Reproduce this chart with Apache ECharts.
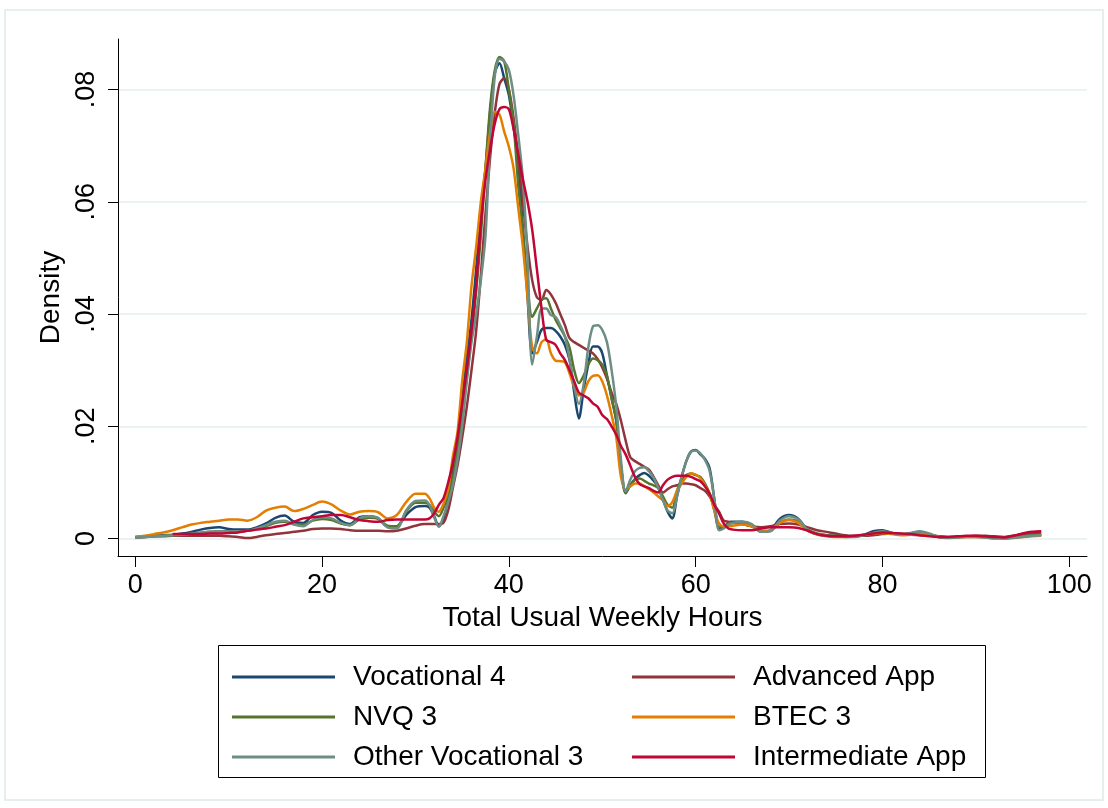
<!DOCTYPE html>
<html>
<head>
<meta charset="utf-8">
<title>Total Usual Weekly Hours – kernel densities</title>
<script src="https://cdn.jsdelivr.net/npm/echarts@6/dist/echarts.min.js"></script>
<style>
  html, body { margin: 0; padding: 0; background: #ffffff; }
  #chart { width: 1108px; height: 808px; }
</style>
</head>
<body>
<div id="chart"></div>
<script>
// Evaluation points (hours): 1-hour steps in the tails, half-hour steps around the peak
const hours = [
  0, 1, 2, 3, 4, 5, 6, 7, 8, 9,
  10, 11, 12, 13, 14, 15, 16, 17, 18, 19,
  20, 21, 22, 23, 24, 25, 26, 27, 28, 29,
  30, 31,
  31.5, 32, 32.5, 33, 33.5,
  34, 34.5, 35, 35.5, 36, 36.5, 37, 37.5, 38, 38.5,
  39, 39.5, 40, 40.5, 41, 41.5, 42, 42.5, 43, 43.5,
  44, 44.5, 45, 45.5, 46, 46.5, 47, 47.5, 48, 48.5,
  49, 49.5, 50, 50.5, 51, 51.5, 52, 52.5, 53, 53.5,
  54, 54.5, 55, 55.5, 56, 56.5, 57, 57.5, 58, 58.5,
  59, 59.5, 60, 60.5, 61, 61.5, 62, 62.5, 63, 63.5,
  64,
  65, 66, 67, 68, 69, 70, 71, 72, 73, 74,
  75, 76, 77, 78, 79, 80, 81, 82, 83, 84,
  85, 86, 87, 88, 89, 90, 91, 92, 93, 94,
  95, 96, 97
];

const vocational4 = [
  0.0003, 0.0004, 0.0005, 0.0006, 0.0007, 0.0009, 0.0012, 0.0016, 0.0019, 0.0020,
  0.0017, 0.0016, 0.0016, 0.0020, 0.0027, 0.0037, 0.0041, 0.0030, 0.0028, 0.0042,
  0.0048, 0.0046, 0.0032, 0.0026, 0.0038, 0.0040, 0.0036, 0.0022, 0.0022, 0.0042,
  0.0056, 0.0058,
  0.0055, 0.0040, 0.0022, 0.0035, 0.0070,
  0.0120, 0.0180, 0.0250, 0.0320, 0.0390, 0.0480, 0.0580, 0.0660, 0.0760, 0.0830,
  0.0847, 0.0820, 0.0790, 0.0734, 0.0670, 0.0550, 0.0430, 0.0330, 0.0350, 0.0372,
  0.0375, 0.0375, 0.0370, 0.0360, 0.0345, 0.0318, 0.0260, 0.0214, 0.0265, 0.0310,
  0.0342, 0.0342, 0.0330, 0.0290, 0.0250, 0.0210, 0.0130, 0.0081, 0.0095, 0.0106,
  0.0113, 0.0117, 0.0112, 0.0103, 0.0092, 0.0070, 0.0048, 0.0036, 0.0075, 0.0110,
  0.0138, 0.0155, 0.0158, 0.0150, 0.0142, 0.0125, 0.0070, 0.0018, 0.0020, 0.0028,
  0.0030,
  0.0030, 0.0025, 0.0012, 0.0015, 0.0035, 0.0042, 0.0035, 0.0015, 0.0008, 0.0006,
  0.0005, 0.0004, 0.0004, 0.0007, 0.0013, 0.0015, 0.0010, 0.0007, 0.0009, 0.0012,
  0.0008, 0.0003, 0.0002, 0.0003, 0.0004, 0.0004, 0.0003, 0.0001, 0.0001, 0.0002,
  0.0004, 0.0006, 0.0007
];

const advancedApp = [
  0.0002, 0.0003, 0.0004, 0.0004, 0.0005, 0.0005, 0.0005, 0.0005, 0.0005, 0.0005,
  0.0004, 0.0003, 0.0001, 0.0003, 0.0006, 0.0008, 0.0010, 0.0012, 0.0014, 0.0017,
  0.0018, 0.0018, 0.0017, 0.0015, 0.0014, 0.0014, 0.0014, 0.0013, 0.0014, 0.0018,
  0.0023, 0.0026,
  0.0026, 0.0026, 0.0026, 0.0028, 0.0050,
  0.0090, 0.0130, 0.0180, 0.0235, 0.0300, 0.0370, 0.0470, 0.0580, 0.0680, 0.0760,
  0.0810, 0.0820, 0.0800, 0.0750, 0.0680, 0.0600, 0.0520, 0.0460, 0.0430, 0.0425,
  0.0443, 0.0435, 0.0420, 0.0400, 0.0380, 0.0357, 0.0350, 0.0345, 0.0340, 0.0335,
  0.0330, 0.0320, 0.0305, 0.0285, 0.0260, 0.0240, 0.0210, 0.0175, 0.0145, 0.0138,
  0.0133, 0.0128, 0.0123, 0.0110, 0.0095, 0.0082, 0.0088, 0.0093, 0.0095, 0.0098,
  0.0098, 0.0097, 0.0095, 0.0090, 0.0085, 0.0075, 0.0060, 0.0048, 0.0032, 0.0030,
  0.0029,
  0.0026, 0.0022, 0.0020, 0.0022, 0.0026, 0.0027, 0.0025, 0.0020, 0.0015, 0.0012,
  0.0009, 0.0006, 0.0005, 0.0005, 0.0006, 0.0008, 0.0009, 0.0008, 0.0007, 0.0006,
  0.0005, 0.0004, 0.0003, 0.0003, 0.0004, 0.0005, 0.0005, 0.0004, 0.0003, 0.0005,
  0.0008, 0.0010, 0.0011
];

const nvq3 = [
  0.0002, 0.0003, 0.0004, 0.0005, 0.0006, 0.0007, 0.0008, 0.0010, 0.0012, 0.0013,
  0.0013, 0.0013, 0.0014, 0.0017, 0.0022, 0.0028, 0.0030, 0.0026, 0.0025, 0.0032,
  0.0035, 0.0033, 0.0027, 0.0024, 0.0034, 0.0037, 0.0035, 0.0023, 0.0022, 0.0048,
  0.0064, 0.0064,
  0.0060, 0.0048, 0.0040, 0.0055, 0.0080,
  0.0110, 0.0160, 0.0220, 0.0290, 0.0360, 0.0440, 0.0540, 0.0660, 0.0770, 0.0835,
  0.0858, 0.0850, 0.0800, 0.0740, 0.0630, 0.0550, 0.0450, 0.0395, 0.0410, 0.0425,
  0.0428, 0.0410, 0.0390, 0.0375, 0.0360, 0.0340, 0.0300, 0.0277, 0.0290, 0.0310,
  0.0321, 0.0318, 0.0310, 0.0290, 0.0250, 0.0210, 0.0130, 0.0082, 0.0095, 0.0105,
  0.0107, 0.0103, 0.0098, 0.0095, 0.0090, 0.0075, 0.0060, 0.0055, 0.0085, 0.0105,
  0.0113, 0.0116, 0.0113, 0.0110, 0.0098, 0.0080, 0.0050, 0.0020, 0.0022, 0.0026,
  0.0028,
  0.0026, 0.0022, 0.0013, 0.0014, 0.0028, 0.0034, 0.0030, 0.0016, 0.0009, 0.0006,
  0.0005, 0.0004, 0.0004, 0.0006, 0.0010, 0.0012, 0.0010, 0.0008, 0.0009, 0.0011,
  0.0008, 0.0004, 0.0002, 0.0003, 0.0004, 0.0004, 0.0003, 0.0002, 0.0001, 0.0002,
  0.0004, 0.0006, 0.0007
];

const btec3 = [
  0.0003, 0.0005, 0.0008, 0.0011, 0.0015, 0.0020, 0.0025, 0.0028, 0.0030, 0.0032,
  0.0034, 0.0034, 0.0032, 0.0038, 0.0050, 0.0055, 0.0057, 0.0049, 0.0053, 0.0060,
  0.0066, 0.0061, 0.0050, 0.0043, 0.0048, 0.0049, 0.0047, 0.0036, 0.0042, 0.0065,
  0.0080, 0.0080,
  0.0072, 0.0055, 0.0048, 0.0062, 0.0088,
  0.0146, 0.0190, 0.0280, 0.0350, 0.0450, 0.0520, 0.0600, 0.0660, 0.0725, 0.0760,
  0.0755, 0.0725, 0.0698, 0.0660, 0.0590, 0.0520, 0.0430, 0.0340, 0.0330, 0.0350,
  0.0355, 0.0330, 0.0317, 0.0316, 0.0314, 0.0294, 0.0270, 0.0255, 0.0260, 0.0280,
  0.0290, 0.0291, 0.0280, 0.0255, 0.0220, 0.0180, 0.0110, 0.0087, 0.0093, 0.0098,
  0.0098, 0.0093, 0.0088, 0.0082, 0.0075, 0.0068, 0.0058, 0.0065, 0.0085, 0.0098,
  0.0110, 0.0116, 0.0114, 0.0108, 0.0095, 0.0080, 0.0050, 0.0027, 0.0022, 0.0022,
  0.0023,
  0.0025, 0.0022, 0.0014, 0.0015, 0.0028, 0.0033, 0.0028, 0.0014, 0.0007, 0.0004,
  0.0003, 0.0003, 0.0004, 0.0007, 0.0009, 0.0010, 0.0008, 0.0006, 0.0007, 0.0008,
  0.0006, 0.0003, 0.0002, 0.0002, 0.0003, 0.0003, 0.0002, 0.0001, 0.0001, 0.0002,
  0.0003, 0.0004, 0.0005
];

const otherVocational3 = [
  0.0002, 0.0003, 0.0004, 0.0005, 0.0006, 0.0007, 0.0009, 0.0011, 0.0012, 0.0013,
  0.0013, 0.0013, 0.0014, 0.0018, 0.0024, 0.0030, 0.0032, 0.0025, 0.0022, 0.0033,
  0.0038, 0.0036, 0.0028, 0.0024, 0.0036, 0.0040, 0.0037, 0.0020, 0.0018, 0.0050,
  0.0067, 0.0068,
  0.0060, 0.0038, 0.0021, 0.0040, 0.0065,
  0.0095, 0.0140, 0.0200, 0.0280, 0.0350, 0.0400, 0.0460, 0.0540, 0.0710, 0.0825,
  0.0855, 0.0850, 0.0835, 0.0790, 0.0720, 0.0640, 0.0500, 0.0310, 0.0360, 0.0410,
  0.0410, 0.0398, 0.0395, 0.0380, 0.0360, 0.0320, 0.0270, 0.0240, 0.0274, 0.0340,
  0.0378, 0.0380, 0.0372, 0.0350, 0.0300, 0.0235, 0.0140, 0.0084, 0.0105, 0.0120,
  0.0126, 0.0127, 0.0120, 0.0108, 0.0090, 0.0068, 0.0050, 0.0045, 0.0075, 0.0110,
  0.0138, 0.0155, 0.0157, 0.0152, 0.0140, 0.0120, 0.0070, 0.0015, 0.0018, 0.0025,
  0.0028,
  0.0030, 0.0026, 0.0012, 0.0013, 0.0032, 0.0040, 0.0034, 0.0015, 0.0008, 0.0005,
  0.0004, 0.0003, 0.0003, 0.0006, 0.0010, 0.0013, 0.0010, 0.0008, 0.0010, 0.0013,
  0.0009, 0.0003, 0.0001, 0.0002, 0.0003, 0.0003, 0.0002, 0.0000, 0.0000, 0.0001,
  0.0003, 0.0005, 0.0006
];

// Intermediate apprenticeships: no density estimated below 4 hours
const intermediateApp = [
  null, null, null, null, 0.0008, 0.0008, 0.0008, 0.0008, 0.0009, 0.0009,
  0.0010, 0.0011, 0.0014, 0.0016, 0.0018, 0.0021, 0.0024, 0.0030, 0.0036, 0.0038,
  0.0040, 0.0042, 0.0042, 0.0038, 0.0033, 0.0031, 0.0030, 0.0033, 0.0034, 0.0034,
  0.0034, 0.0034,
  0.0036, 0.0045, 0.0060, 0.0072, 0.0100,
  0.0134, 0.0180, 0.0241, 0.0300, 0.0370, 0.0450, 0.0560, 0.0640, 0.0695, 0.0740,
  0.0765, 0.0769, 0.0765, 0.0730, 0.0685, 0.0640, 0.0600, 0.0550, 0.0480, 0.0410,
  0.0354, 0.0350, 0.0345, 0.0330, 0.0318, 0.0300, 0.0280, 0.0260, 0.0255, 0.0250,
  0.0241, 0.0235, 0.0220, 0.0213, 0.0200, 0.0185, 0.0165, 0.0150, 0.0130, 0.0110,
  0.0097, 0.0093, 0.0090, 0.0085, 0.0082, 0.0095, 0.0105, 0.0110, 0.0112, 0.0112,
  0.0112, 0.0110, 0.0106, 0.0102, 0.0093, 0.0080, 0.0060, 0.0045, 0.0027, 0.0018,
  0.0016,
  0.0015, 0.0015, 0.0018, 0.0020, 0.0020, 0.0020, 0.0019, 0.0014, 0.0008, 0.0005,
  0.0004, 0.0004, 0.0005, 0.0007, 0.0009, 0.0011, 0.0010, 0.0009, 0.0008, 0.0006,
  0.0004, 0.0003, 0.0003, 0.0004, 0.0005, 0.0005, 0.0004, 0.0003, 0.0002, 0.0005,
  0.0009, 0.0012, 0.0013
];

const seriesNames = ['Vocational 4', 'Advanced App', 'NVQ 3', 'BTEC 3', 'Other Vocational 3', 'Intermediate App'];
const seriesValues = [vocational4, advancedApp, nvq3, btec3, otherVocational3, intermediateApp];
const seriesColors = ['#1a476f', '#90353b', '#55752f', '#e37e00', '#6e8e84', '#c10534'];

const xTicks = [0, 20, 40, 60, 80, 100];
const yTicks = [0, 0.02, 0.04, 0.06, 0.08];
const yTickLabels = ['0', '.02', '.04', '.06', '.08'];

const FONT = "'Liberation Sans', Arial, Helvetica, sans-serif";

const chart = echarts.init(document.getElementById('chart'), null, { renderer: 'canvas' });

const series = seriesNames.map((name, k) => ({
  name: name,
  type: 'line',
  data: hours.map((h, i) => [h, seriesValues[k][i]]),
  showSymbol: false,
  symbol: 'none',
  smooth: 0.3,
  connectNulls: false,
  lineStyle: { color: seriesColors[k], width: 2.5 },
  itemStyle: { color: seriesColors[k] },
  emphasis: { disabled: true },
  z: 3 + k
}));

const legendBase = {
  orient: 'vertical',
  icon: 'rect',
  itemWidth: 103,
  itemHeight: 3,
  itemGap: 12,
  padding: 0,
  selectedMode: false,
  textStyle: { fontFamily: FONT, fontSize: 28, color: '#000000', padding: [0, 0, 0, 13] }
};

chart.setOption({
  animation: false,
  backgroundColor: '#ffffff',
  textStyle: { fontFamily: FONT },
  graphic: [
    {
      type: 'rect',
      shape: { x: 5, y: 10, width: 1098, height: 790 },
      style: { fill: null, stroke: '#e6eef0', lineWidth: 2 },
      silent: true,
      z: 0
    },
    {
      type: 'rect',
      shape: { x: 218.5, y: 645.5, width: 767, height: 132 },
      style: { fill: null, stroke: '#000000', lineWidth: 1 },
      silent: true,
      z: 10
    }
  ],
  grid: { left: 118, right: 21, top: 39, bottom: 252, containLabel: false },
  xAxis: {
    type: 'value',
    min: -1.85,
    max: 101.9,
    name: 'Total Usual Weekly Hours',
    nameLocation: 'middle',
    nameGap: 42,
    nameTextStyle: { fontFamily: FONT, fontSize: 28, color: '#000000' },
    axisLine: { show: true, onZero: false, lineStyle: { color: '#000000', width: 1 } },
    axisTick: { show: true, length: 11, customValues: xTicks, lineStyle: { color: '#000000', width: 1 } },
    axisLabel: { customValues: xTicks, margin: 16, fontFamily: FONT, fontSize: 27, color: '#000000' },
    splitLine: { show: false }
  },
  yAxis: {
    type: 'value',
    min: -0.0031,
    max: 0.089,
    name: 'Density',
    nameLocation: 'middle',
    nameGap: 41,
    nameRotate: 90,
    nameTextStyle: { fontFamily: FONT, fontSize: 28, color: '#000000' },
    axisLine: { show: true, onZero: false, lineStyle: { color: '#000000', width: 1 } },
    axisTick: { show: true, length: 10, customValues: yTicks, lineStyle: { color: '#000000', width: 1 } },
    axisLabel: {
      customValues: yTicks,
      rotate: 90,
      margin: 18,
      fontFamily: FONT,
      fontSize: 27,
      color: '#000000',
      formatter: function (v) {
        const i = yTicks.findIndex(t => Math.abs(t - v) < 1e-9);
        return i >= 0 ? yTickLabels[i] : '';
      }
    },
    splitLine: { show: true, lineStyle: { color: '#eaf2f3', width: 2 } }
  },
  legend: [
    Object.assign({}, legendBase, { left: 232, top: 663, data: ['Vocational 4', 'NVQ 3', 'Other Vocational 3'] }),
    Object.assign({}, legendBase, { left: 632, top: 663, data: ['Advanced App', 'BTEC 3', 'Intermediate App'] })
  ],
  series: series
});
</script>
</body>
</html>
